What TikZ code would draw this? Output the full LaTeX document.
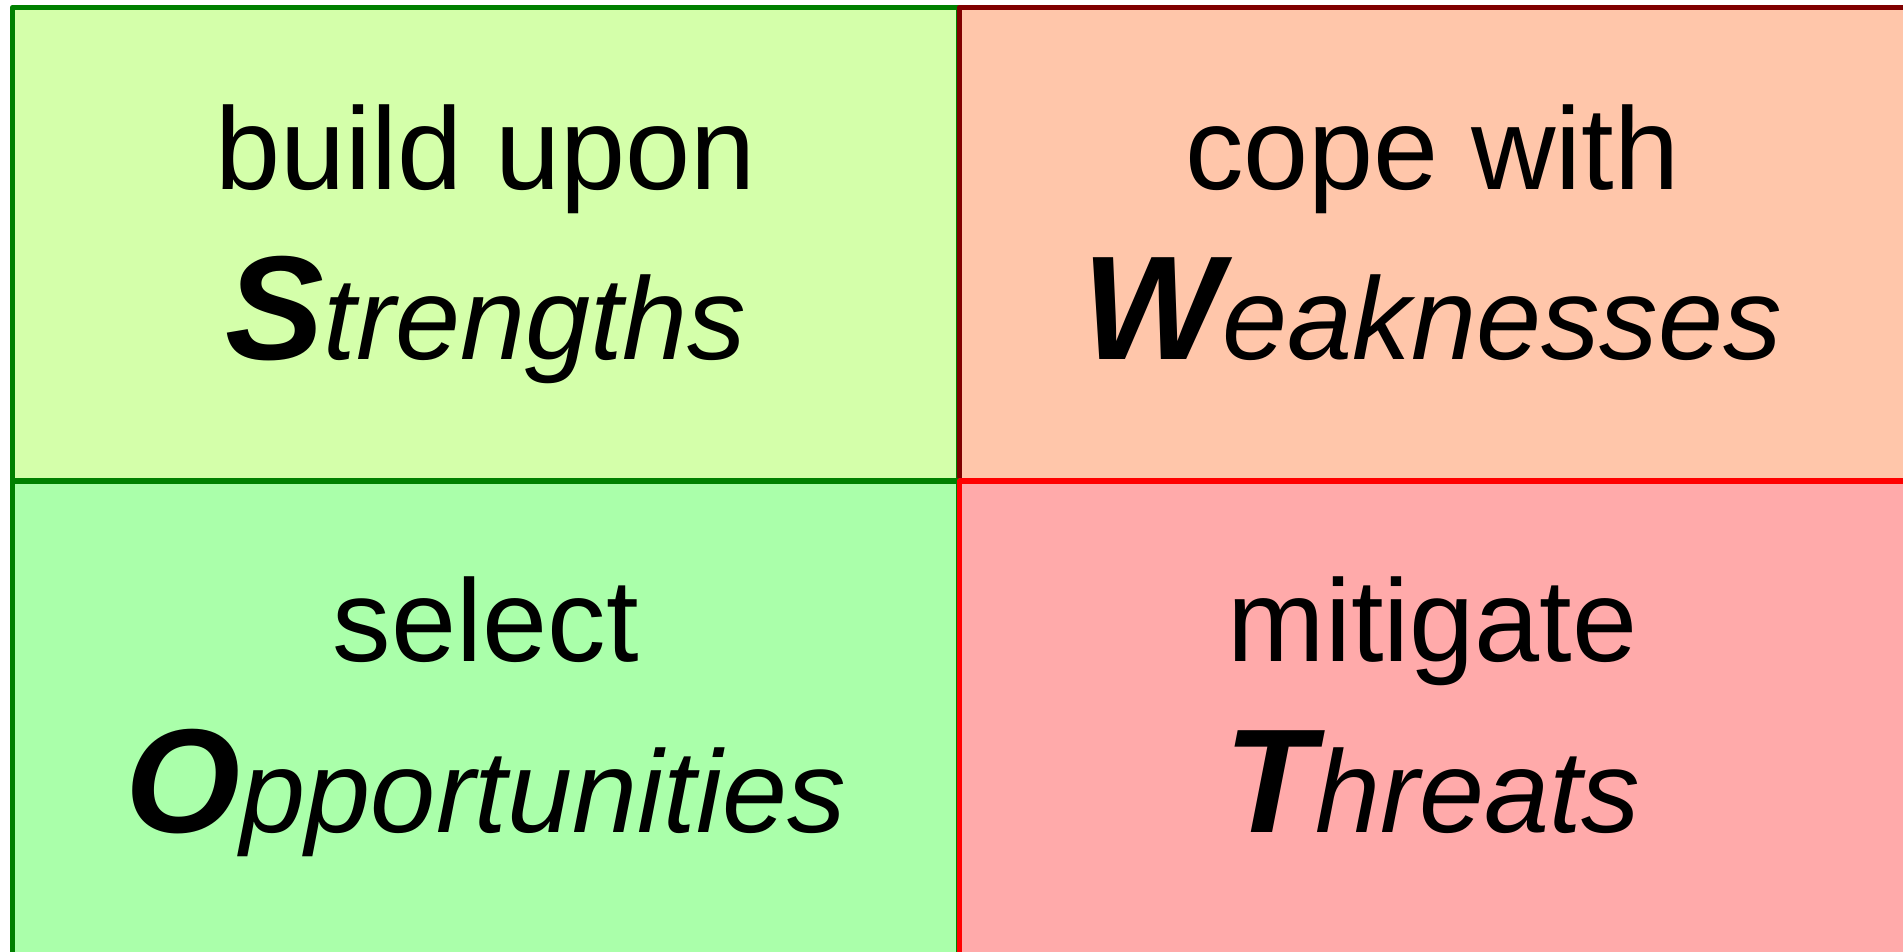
\documentclass[tikz,border=0pt]{standalone}
\usepackage{fontspec}
\setmainfont{Liberation Sans}
\usepackage{tikz}

\definecolor{sfill}{HTML}{D4FFAA}
\definecolor{wfill}{HTML}{FFC6AA}
\definecolor{ofill}{HTML}{AAFFAA}
\definecolor{tfill}{HTML}{FFAAAA}
\definecolor{sline}{HTML}{008000}
\definecolor{wline}{HTML}{800000}
\definecolor{tline}{HTML}{FF0000}

\newcommand{\wordfont}{\fontsize{58.5}{70}\selectfont}
\newcommand{\bigletter}[1]{{\fontsize{74}{80}\selectfont\bfseries\itshape #1}}

\begin{document}
\begin{tikzpicture}[x=1pt,y=1pt]
			\tikzset{cell/.style = {rectangle, minimum width=473.25pt, minimum height=236.75pt, inner sep=0pt, line width=2.75pt, line join=round}}
			\tikzset{word/.style = {anchor=base, inner sep=0pt, font=\wordfont}}

			\useasboundingbox (0,0) rectangle (951.5,476);

			\node[cell, fill=sfill, draw=sline] (s) at (242.875,353.875) {};
			\node[cell, fill=wfill, draw=wline] (w) at (716.25,353.875) {};
			\node[cell, fill=ofill, draw=sline] (o) at (242.875,117) {};
			\node[cell, fill=tfill, draw=tline] (t) at (716.25,117) {};

			\node[word] (s1) at (242.875,381) {build upon};
			\node[word] (s2) at (242.875,296) {\bigletter{S}\itshape trengths};
			\node[word] (w1) at (716.25,381) {cope with};
			\node[word] (w2) at (716.25,296) {\bigletter{W}\itshape eaknesses};
			\node[word] (o1) at (242.875,145) {select};
			\node[word] (o2) at (242.875,59.5) {\bigletter{O}\itshape pportunities};
			\node[word] (t1) at (716.25,145) {mitigate};
			\node[word] (t2) at (716.25,59.5) {\bigletter{T}\itshape hreats};
		\end{tikzpicture}
\end{document}
